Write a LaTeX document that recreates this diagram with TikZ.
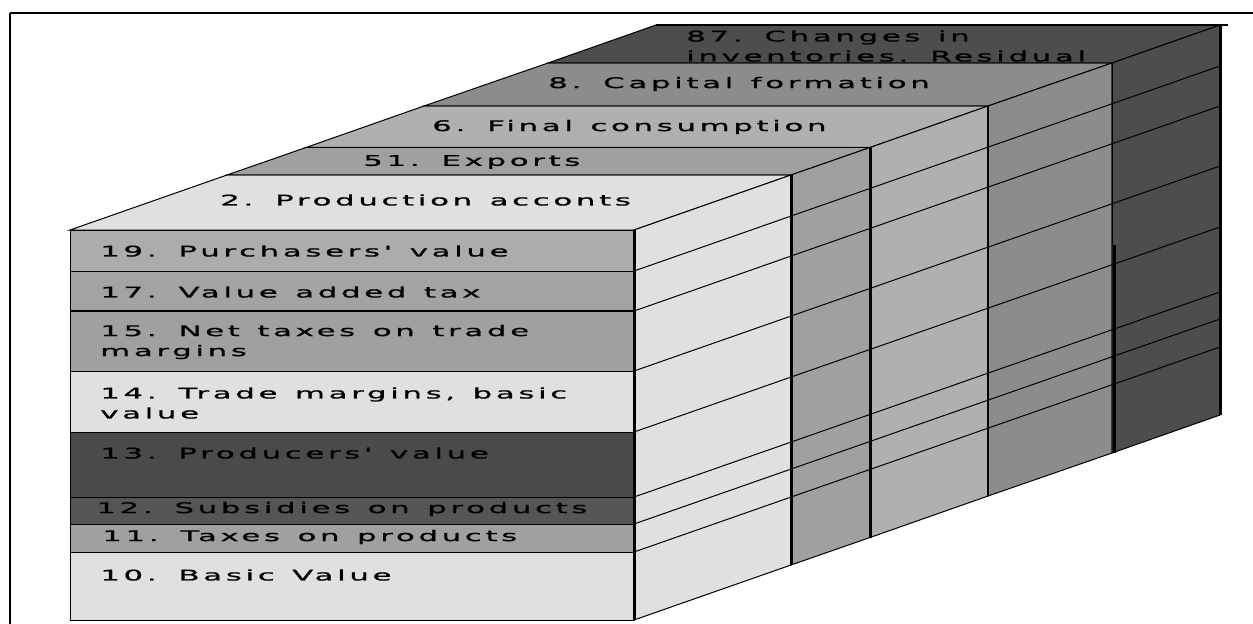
\documentclass[tikz,border=0pt]{standalone}
\usepackage{fontspec}
\newfontfamily\boxfont[FakeStretch=2.1,LetterSpace=25,WordSpace=1.3,FakeBold=1]{DejaVu Sans}
\definecolor{pale}{RGB}{224,224,224}
\definecolor{mid}{RGB}{160,160,160}
\definecolor{midlight}{RGB}{176,176,176}
\definecolor{purch}{RGB}{172,172,172}
\definecolor{vat}{RGB}{163,163,163}
\definecolor{capital}{RGB}{140,140,140}
\definecolor{dark}{RGB}{77,77,77}
\definecolor{darker}{RGB}{74,74,74}
\definecolor{subsid}{RGB}{85,85,85}

\begin{document}
\begin{tikzpicture}[x=0.75pt,y=0.75pt,yscale=-1,xscale=1,
  lbl/.style={anchor=west,inner sep=0pt,align=left,font=\boxfont\fontsize{11}{15}\selectfont},
  thin/.style={draw=black,line width=0.75},
  heavy/.style={draw=black,line width=2.25}]
%set diagram to 1253 x 624
\path[use as bounding box] (0,0) rectangle (1253,624);
\clip (0,0) rectangle (1253,624);

%Shape: Frame
\draw [line width=1.9] (10,13) -- (1270,13) (10,13) -- (10,640) ;

%Shape: Top bands
\draw [thin,fill=pale] (70,230) -- (634,230) -- (791,175) -- (227,175) -- cycle ;
\draw [thin,fill=mid] (227,175) -- (791,175) -- (870,147.5) -- (306,147.5) -- cycle ;
\draw [thin,fill=midlight] (306,147.5) -- (870,147.5) -- (988,106) -- (424,106) -- cycle ;
\draw [thin,fill=capital] (424,106) -- (988,106) -- (1112,63) -- (548,63) -- cycle ;
\draw [thin,fill=dark] (548,63) -- (1112,63) -- (1220,25) -- (656,25) -- cycle ;
%Straight Lines: back top edge
\draw [line width=1.5] (656,25) -- (1228,25) ;

%Shape: Right face columns
\draw [thin,fill=pale] (634,230) -- (791,175) -- (791,565) -- (634,620) -- cycle ;
\draw [thin,fill=mid] (791,175) -- (870,147.5) -- (870,537.5) -- (791,565) -- cycle ;
\draw [thin,fill=midlight] (870,147.5) -- (988,106) -- (988,496) -- (870,537.5) -- cycle ;
\draw [thin,fill=capital] (988,106) -- (1112,63) -- (1112,453) -- (988,496) -- cycle ;
\draw [thin,fill=dark] (1112,63) -- (1220,25) -- (1220,415) -- (1112,453) -- cycle ;

%Shape: Front face rows
\draw [thin,fill=purch] (70,230) rectangle (634,271) ;
\draw [thin,fill=vat] (70,271) rectangle (634,311) ;
\draw [thin,fill=mid] (70,311) rectangle (634,371) ;
\draw [thin,fill=pale] (70,371) rectangle (634,432) ;
\draw [thin,fill=darker] (70,432) rectangle (634,497) ;
\draw [thin,fill=subsid] (70,497) rectangle (634,524) ;
\draw [thin,fill=mid] (70,524) rectangle (634,552) ;
\draw [thin,fill=pale] (70,552) rectangle (634,620) ;
\draw [line width=1.5] (70,311) -- (634,311) ;

%Straight Lines: rows running back
\draw [thin] (634,271) -- (1220,66) ;
\draw [thin] (634,311) -- (1220,106) ;
\draw [thin] (634,371) -- (1220,166) ;
\draw [thin] (634,432) -- (1220,227) ;
\draw [thin] (634,497) -- (1220,292) ;
\draw [thin] (634,524) -- (1220,319) ;
\draw [thin] (634,552) -- (1220,347) ;

%Straight Lines: vertical edges
\draw [heavy] (634,230) -- (634,620) ;
\draw [heavy] (791,175) -- (791,565) ;
\draw [heavy] (870,147.5) -- (870,537.5) ;
\draw [draw=black,line width=1.1] (988,106) -- (988,496) ;
\draw [thin] (1112,63) -- (1112,245) ;
\draw [heavy] (1114,245) -- (1114,453) ;
\draw [heavy] (1220,25) -- (1220,415) ;

% Text Node
\node [lbl] (b87) at (686,46) {87. Changes in\\inventories. Residual};
% Text Node
\node [lbl] (b8) at (548,84) {8. Capital formation};
% Text Node
\node [lbl] (b6) at (432,127) {6. Final consumption};
% Text Node
\node [lbl] (b51) at (363,162) {51. Exports};
% Text Node
\node [lbl] (b2) at (220,200) {2. Production acconts};
% Text Node
\node [lbl] (r19) at (100,251) {19. Purchasers' value};
% Text Node
\node [lbl] (r17) at (100,292) {17. Value added tax};
% Text Node
\node [lbl] (r15) at (100,342) {15. Net taxes on trade\\margins};
% Text Node
\node [lbl] (r14) at (100,403) {14. Trade margins, basic\\value};
% Text Node
\node [lbl] (r13) at (100,453) {13. Producers' value};
% Text Node
\node [lbl] (r12) at (96,509) {12. Subsidies on products};
% Text Node
\node [lbl] (r11) at (102,537) {11. Taxes on products};
% Text Node
\node [lbl] (r10) at (100,575) {10. Basic Value};

\end{tikzpicture}
\end{document}
